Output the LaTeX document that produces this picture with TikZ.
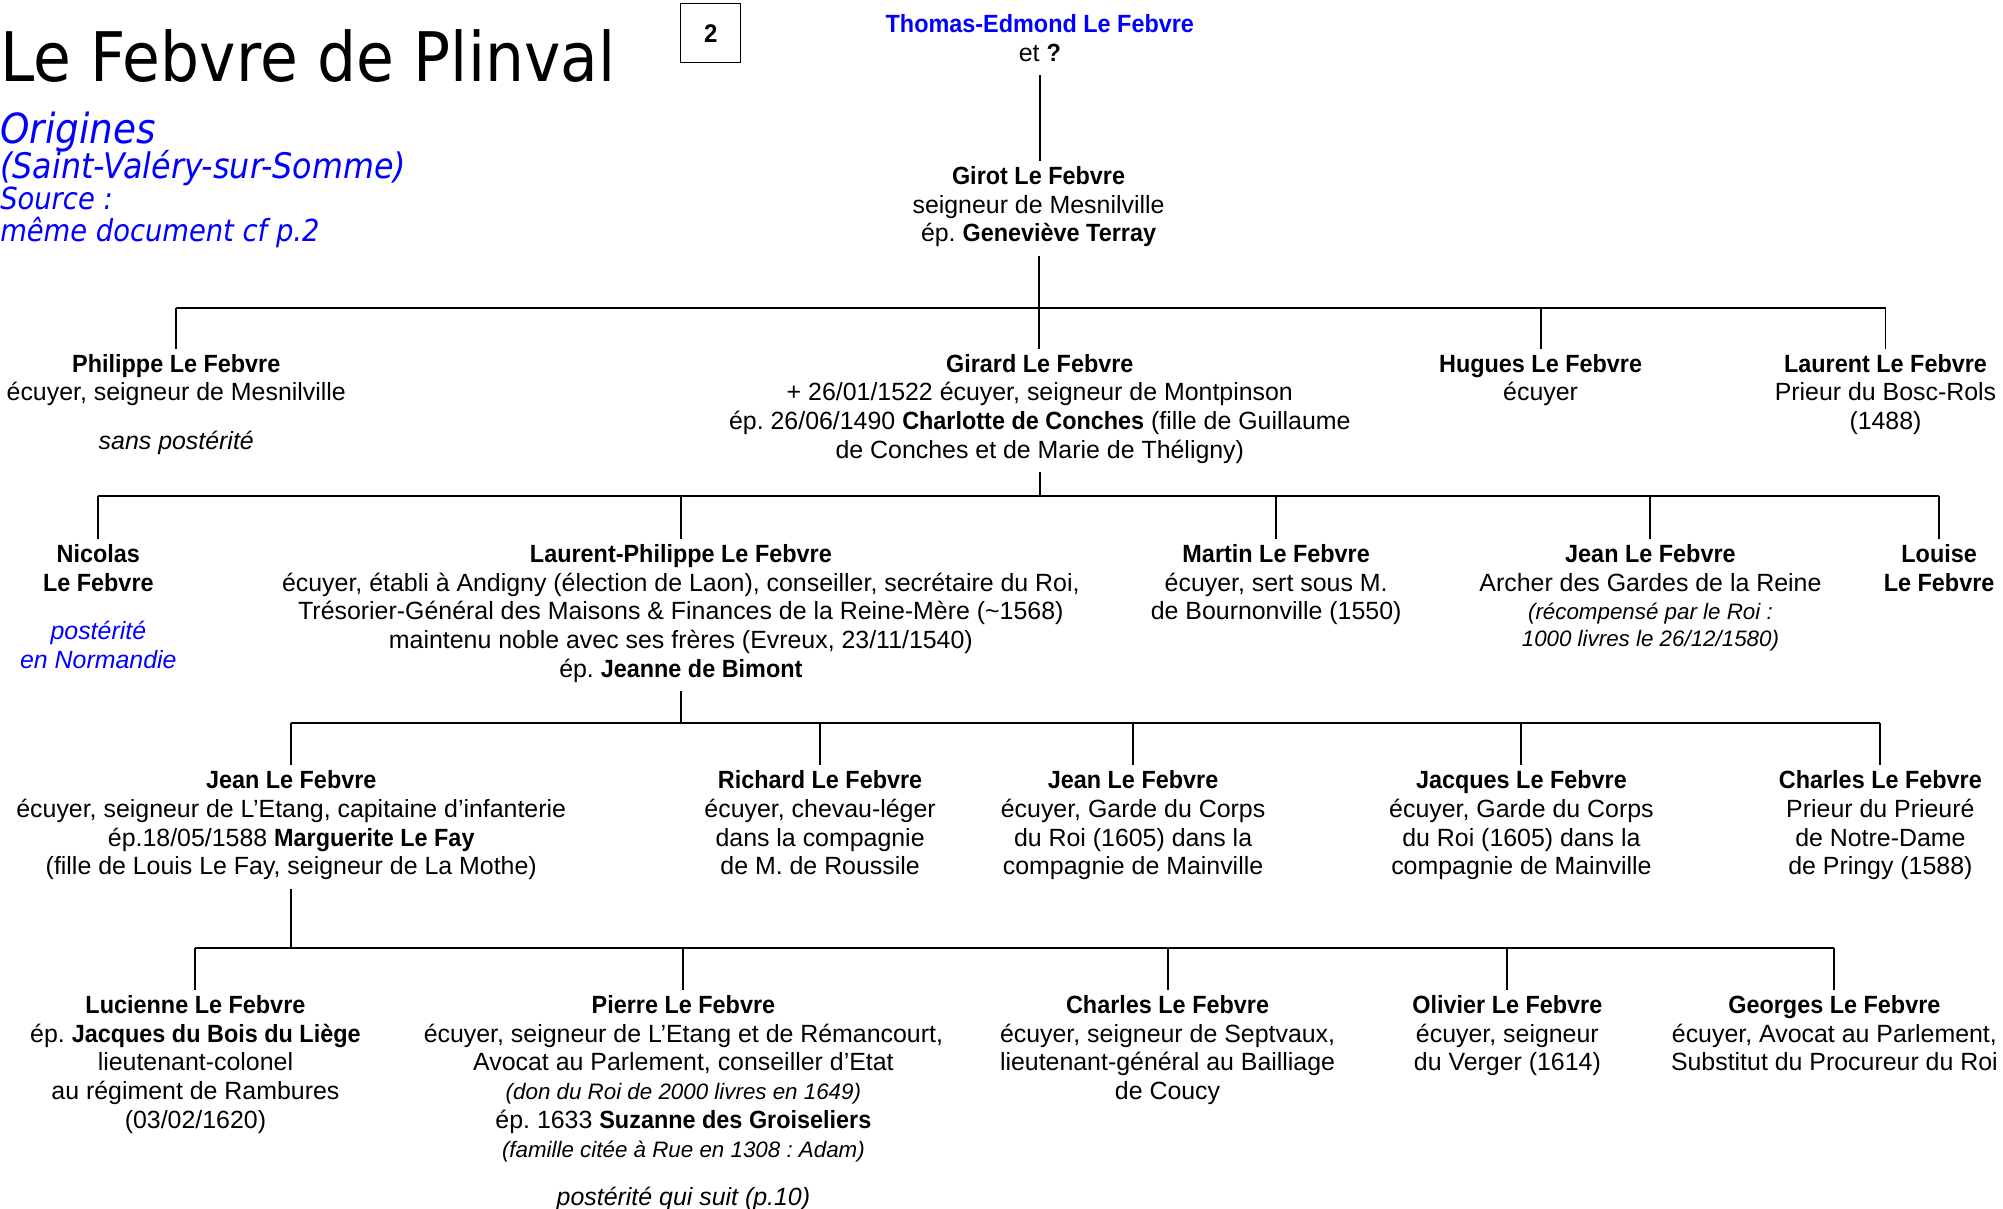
\documentclass[tikz,border=0pt]{standalone}
\usepackage{fontspec}
\setmainfont{Liberation Sans}[BoldFeatures={FakeStretch=0.94}]
\newfontfamily\tahomalike{DejaVu Sans}[FakeStretch=0.9]
\definecolor{lfblue}{RGB}{0,0,255}
\frenchspacing
\newcommand\fs{\fontsize{19.5}{22.5}\selectfont}
\newcommand\smit{\fontsize{17.5}{22.5}\selectfont\itshape}
\tikzset{
  person/.style={anchor=north, align=center, inner xsep=0pt, inner ysep=4pt,
    font=\fs, execute at begin node=\strut, execute at end node=\strut},
  link/.style={line width=1.5pt},
  bluenote/.style={anchor=base west, inner sep=0pt, text=lfblue},
}
\begin{document}
\begin{tikzpicture}[x=1pt, y=-1pt]
\useasboundingbox (0,0) rectangle (1568,946);

% header
\node[anchor=base west, inner sep=0pt, font=\tahomalike\fontsize{53.5}{60}\selectfont] (title) at (0,64) {Le Febvre de Plinval};
\node[bluenote, font=\tahomalike\itshape\fontsize{32.5}{36}\selectfont] (orig) at (0,112) {Origines};
\node[bluenote, font=\tahomalike\itshape\fontsize{27.6}{30}\selectfont] (saint) at (0,140) {(Saint-Valéry-sur-Somme)};
\node[bluenote, font=\tahomalike\itshape\fontsize{23.8}{28}\selectfont] (source) at (0,164) {Source :};
\node[bluenote, font=\tahomalike\itshape\fontsize{23.8}{28}\selectfont] (meme) at (0,189) {même document cf p.2};
\node[draw, line width=0.8pt, minimum width=47pt, minimum height=46pt, inner sep=0pt,
  font=\fontsize{20}{24}\selectfont\bfseries] (page) at (556.5,26) {2};

% generation 0 / 1
\node[person] (thomas) at (814,7) {{\color{lfblue}\textbf{Thomas-Edmond Le Febvre}}\\et \textbf{?}};
\node[person] (girot) at (813,126) {\textbf{Girot Le Febvre}\\seigneur de Mesnilville\\ép. \textbf{Geneviève Terray}};

% generation 2
\node[person] (philippe) at (138,273) {\textbf{Philippe Le Febvre}\\écuyer, seigneur de Mesnilville\\[15.5pt]{\itshape sans postérité}};
\node[person] (girard) at (814,273) {\textbf{Girard Le Febvre}\\+ 26/01/1522 écuyer, seigneur de Montpinson\\ép. 26/06/1490 \textbf{Charlotte de Conches} (fille de Guillaume\\de Conches et de Marie de Théligny)};
\node[person] (hugues) at (1206,273) {\textbf{Hugues Le Febvre}\\écuyer};
\node[person] (laurent) at (1476,273) {\textbf{Laurent Le Febvre}\\Prieur du Bosc-Rols\\(1488)};

% generation 3
\node[person] (nicolas) at (77,422) {\textbf{Nicolas}\\\textbf{Le Febvre}\\[15.5pt]{\color{lfblue}\itshape postérité}\\{\color{lfblue}\itshape en Normandie}};
\node[person] (laurentph) at (533,422) {\textbf{Laurent-Philippe Le Febvre}\\écuyer, établi à Andigny (élection de Laon), conseiller, secrétaire du Roi,\\Trésorier-Général des Maisons \& Finances de la Reine-Mère (\textasciitilde1568)\\maintenu noble avec ses frères (Evreux, 23/11/1540)\\ép. \textbf{Jeanne de Bimont}};
\node[person] (martin) at (999,422) {\textbf{Martin Le Febvre}\\écuyer, sert sous M.\\de Bournonville (1550)};
\node[person] (jeanA) at (1292,422) {\textbf{Jean Le Febvre}\\Archer des Gardes de la Reine\\{\smit (récompensé par le Roi :}\\[-2pt]{\smit 1000 livres le 26/12/1580)}};
\node[person] (louise) at (1518,422) {\textbf{Louise}\\\textbf{Le Febvre}};

% generation 4
\node[person] (jeanB) at (228,599) {\textbf{Jean Le Febvre}\\écuyer, seigneur de L’Etang, capitaine d’infanterie\\ép.18/05/1588 \textbf{Marguerite Le Fay}\\(fille de Louis Le Fay, seigneur de La Mothe)};
\node[person] (richard) at (642,599) {\textbf{Richard Le Febvre}\\écuyer, chevau-léger\\dans la compagnie\\de M. de Roussile};
\node[person] (jeanC) at (887,599) {\textbf{Jean Le Febvre}\\écuyer, Garde du Corps\\du Roi (1605) dans la\\compagnie de Mainville};
\node[person] (jacques) at (1191,599) {\textbf{Jacques Le Febvre}\\écuyer, Garde du Corps\\du Roi (1605) dans la\\compagnie de Mainville};
\node[person] (charlesA) at (1472,599) {\textbf{Charles Le Febvre}\\Prieur du Prieuré\\de Notre-Dame\\de Pringy (1588)};

% generation 5
\node[person] (lucienne) at (153,775) {\textbf{Lucienne Le Febvre}\\ép. \textbf{Jacques du Bois du Liège}\\lieutenant-colonel\\au régiment de Rambures\\(03/02/1620)};
\node[person] (pierre) at (535,775) {\textbf{Pierre Le Febvre}\\écuyer, seigneur de L’Etang et de Rémancourt,\\Avocat au Parlement, conseiller d’Etat\\{\smit (don du Roi de 2000 livres en 1649)}\\ép. 1633 \textbf{Suzanne des Groiseliers}\\{\smit (famille citée à Rue en 1308 : Adam)}\\[15pt]{\itshape postérité qui suit (p.10)}};
\node[person] (charlesB) at (914,775) {\textbf{Charles Le Febvre}\\écuyer, seigneur de Septvaux,\\lieutenant-général au Bailliage\\de Coucy};
\node[person] (olivier) at (1180,775) {\textbf{Olivier Le Febvre}\\écuyer, seigneur\\du Verger (1614)};
\node[person] (georges) at (1436,775) {\textbf{Georges Le Febvre}\\écuyer, Avocat au Parlement,\\Substitut du Procureur du Roi};

% junction coordinates
\coordinate (j1) at (815,241);
\coordinate (j2) at (815,388);
\coordinate (j3) at (534,566);
\coordinate (j4) at (228,742);

% connectors
\draw[link] (thomas.south) -- (thomas.south |- girot.north);

\draw[link] (girot.south) -- (girot.south |- girard.north);
\draw[link] (philippe.north |- j1) -- (laurent.north |- j1);
\foreach \c in {philippe,hugues,laurent}{\draw[link] (\c.north |- j1) -- (\c.north);}

\draw[link] (girard.south) -- (girard.south |- j2);
\draw[link] (nicolas.north |- j2) -- (louise.north |- j2);
\foreach \c in {nicolas,laurentph,martin,jeanA,louise}{\draw[link] (\c.north |- j2) -- (\c.north);}

\draw[link] (laurentph.south) -- (laurentph.south |- j3);
\draw[link] (jeanB.north |- j3) -- (charlesA.north |- j3);
\foreach \c in {jeanB,richard,jeanC,jacques,charlesA}{\draw[link] (\c.north |- j3) -- (\c.north);}

\draw[link] (jeanB.south) -- (jeanB.south |- j4);
\draw[link] (lucienne.north |- j4) -- (georges.north |- j4);
\foreach \c in {lucienne,pierre,charlesB,olivier,georges}{\draw[link] (\c.north |- j4) -- (\c.north);}
\end{tikzpicture}
\end{document}
